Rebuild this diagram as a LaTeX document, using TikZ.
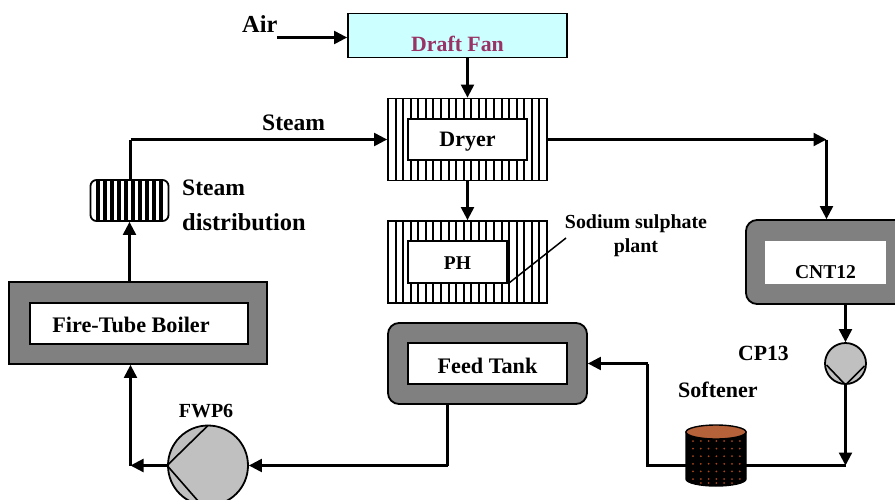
\documentclass[tikz,border=0pt]{standalone}
\usepackage{fontspec}
\setmainfont{Liberation Serif}
\usetikzlibrary{arrows.meta,shapes.geometric,calc}
\definecolor{fanfill}{HTML}{CCFFFF}
\definecolor{fantext}{HTML}{993366}
\definecolor{shell}{HTML}{808080}
\definecolor{pumpfill}{HTML}{C0C0C0}
\definecolor{softtop}{HTML}{B5613A}
\definecolor{softdot}{HTML}{A8431A}
\newcommand{\fs}[1]{\bfseries\fontsize{#1}{#1}\selectfont}
\tikzset{
  arr/.style={line width=2.2pt,-{Triangle[length=13pt,width=13pt]}},
  pipe/.style={line width=2.2pt},
  lbl/.style={text=black,inner sep=0pt},
  inner/.style={draw=black,line width=1.8pt,fill=white,inner sep=0pt},
  outerbox/.style={draw=black,line width=1.8pt,inner sep=0pt},
  striped/.style n args={2}{outerbox,fill=white,path picture={
    \foreach \k in {1,...,#1}{
      \draw[line width=#2] ($(path picture bounding box.south west)!\k/(#1+1)!(path picture bounding box.south east)$)
        -- ($(path picture bounding box.north west)!\k/(#1+1)!(path picture bounding box.north east)$);}}},
  shellsq/.style={outerbox,fill=shell},
  shellrd/.style={outerbox,fill=shell,rounded corners=11pt},
  pump/.style={circle,draw=black,line width=1.8pt,fill=pumpfill,inner sep=0pt}
}
\begin{document}
\begin{tikzpicture}[x=1pt,y=-1pt]
\useasboundingbox (0,0) rectangle (895,499);
\clip (0,0) rectangle (895,499);
% units
\node[outerbox,fill=fanfill,minimum width=219pt,minimum height=44pt] (fan) at (457.5,35.5) {};
\node[lbl,text=fantext,font=\fs{21.8}] (fantxt) at (457.5,43.5) {Draft Fan};
\node[striped={20}{2pt},minimum width=159pt,minimum height=82pt] (dryer) at (467.5,139.5) {};
\node[inner,minimum width=119pt,minimum height=41pt] (dryerin) at (467.5,139.5) {};
\node[lbl,font=\fs{22},anchor=base] (dryertxt) at (467.5,146) {Dryer};
\node[striped={20}{2pt},minimum width=159pt,minimum height=82pt] (ph) at (467.5,262) {};
\node[inner,minimum width=99pt,minimum height=42pt] (phin) at (457.5,262) {};
\node[lbl,font=\fs{19.5},anchor=base] (phtxt) at (457.5,269.5) {PH};
\node[striped={10}{4pt},rounded corners=6pt,minimum width=78pt,minimum height=41pt] (dist) at (129.5,200.5) {};
\node[shellsq,minimum width=258pt,minimum height=82pt] (boiler) at (138,323) {};
\node[inner,minimum width=218pt,minimum height=41pt] (boilerin) at (139,323.5) {};
\node[lbl,font=\fs{22.2}] (boilertxt) at (131,325) {Fire-Tube Boiler};
\node[shellrd,minimum width=170pt,minimum height=84pt] (cnt) at (831,262) {};
\node[fill=white,inner sep=0pt,anchor=west,minimum width=121pt,minimum height=43pt] (cntin) at (765,262.5) {};
\node[lbl,font=\fs{19.6}] (cnttxt) at (825.5,272) {CNT12};
\node[shellrd,minimum width=199pt,minimum height=81pt] (tank) at (487.5,363.5) {};
\node[inner,minimum width=159pt,minimum height=41pt] (tankin) at (487.5,363.5) {};
\node[lbl,font=\fs{22.2},anchor=base] (tanktxt) at (487.5,373) {Feed Tank};
% connector joints
\coordinate (airstart) at (277,37.5);
\coordinate (steamcorner) at (130.5,139.5);
\coordinate (dryerexit) at (826.5,139.5);
\coordinate (cptail) at (845.5,465.5);
\coordinate (softleft) at (647.5,465.5);
\coordinate (softup) at (647.5,363.5);
\coordinate (tankdown) at (447.5,465.5);
\coordinate (boilerjoin) at (130.5,465.5);
% connectors
\draw[arr] (airstart) -- (airstart -| fan.west);
\draw[arr] (fan.south -| dryer.north) -- (dryer.north);
\draw[pipe] (dist.north -| steamcorner) -- (steamcorner);
\draw[arr] (steamcorner) -- (dryer.west);
\draw[arr] (dryer.east) -- (dryerexit);
\draw[arr] (dryerexit) -- (dryerexit |- cnt.north);
\draw[arr] (dryer.south) -- (ph.north);
\draw[line width=1.5pt] (phin.south east) -- (566,238);
\draw[arr] (boiler.north -| dist.south) -- (dist.south);
% pumps
\node[pump,minimum size=41pt] (cp) at (845.5,363.5) {};
\draw[line width=1.6pt] (826.5,365) -- (cp.south) -- (864.5,366);
\node[pump,minimum size=80pt] (fwp) at (208,465.5) {};
\draw[line width=1.6pt] (208,425.5) -- (fwp.west) -- (202,505.5);
\draw[arr] (845.5,304) -- (cp.north);
\draw[arr] (cp.south) -- (cptail);
\draw[pipe] (cptail) -- (softleft) -- (softup);
\draw[arr] (softup) -- (tank.east |- softup);
\draw[pipe] (tank.south -| tankdown) -- (tankdown);
\draw[arr] (tankdown) -- (fwp.east);
\draw[arr] (fwp.west) -- (boilerjoin);
\draw[arr] (boilerjoin) -- (boilerjoin |- boiler.south);
% softener
\node[minimum width=60pt,minimum height=53pt,inner sep=0pt] (soft) at (716,459.5) {};
\fill[black,draw=black,line width=1.4pt] (686,432) -- (686,479) arc[start angle=180,end angle=360,x radius=30pt,y radius=7pt] -- (746,432) -- cycle;
\draw[line width=1.4pt,fill=softtop] (716,432) ellipse[x radius=30pt,y radius=7pt];
\foreach \row in {0,...,5}{
  \foreach \col in {0,...,6}{
    \fill[softdot] ({693+\col*7.8},{441+\row*7.6}) circle (1pt);
  }
}
\foreach \col in {1,...,5}{
  \fill[softdot] ({693+\col*7.8},{483}) circle (1pt);
}
% labels
\node[lbl,font=\fs{24.4},anchor=west] (air) at (242,24) {Air};
\node[lbl,font=\fs{23.6},anchor=west] (steam) at (262,123) {Steam};
\node[lbl,font=\fs{23.6},anchor=west] (sd1) at (182,188) {Steam};
\node[lbl,font=\fs{24.4},anchor=west] (sd2) at (182,222) {distribution};
\node[lbl,font=\fs{19.9}] (na1) at (636,223.5) {Sodium sulphate};
\node[lbl,font=\fs{19.9}] (na2) at (636,247.5) {plant};
\node[lbl,font=\fs{21.7},anchor=west] (cpl) at (738,353) {CP13};
\node[lbl,font=\fs{22},anchor=west] (sofl) at (678,390) {Softener};
\node[lbl,font=\fs{20}] (fwpl) at (206,411) {FWP6};
\end{tikzpicture}
\end{document}
